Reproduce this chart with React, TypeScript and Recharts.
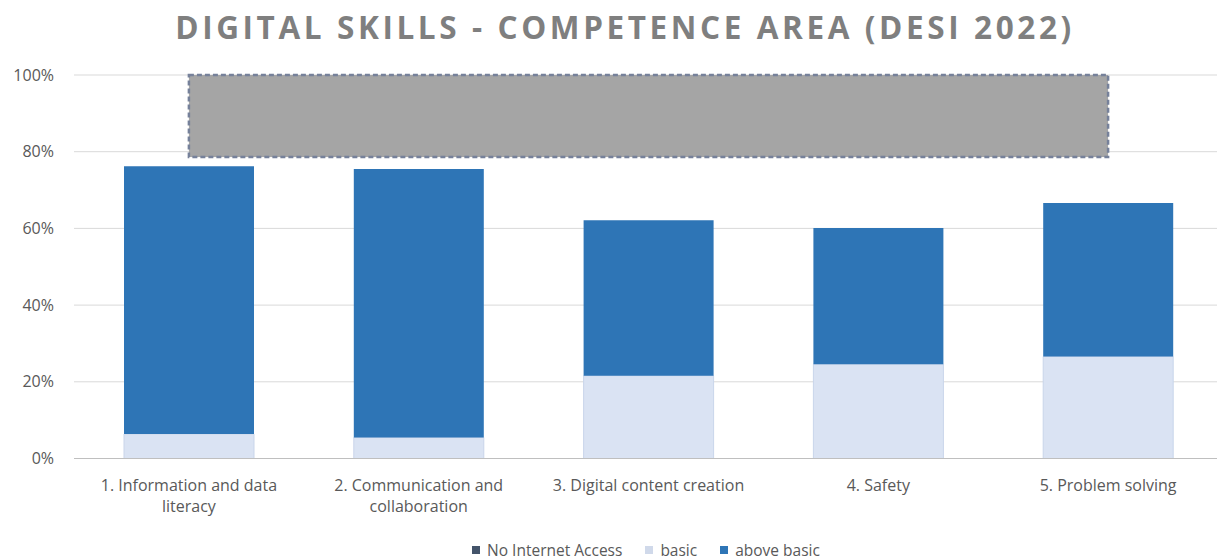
import React from 'react';
import { BarChart, Bar, XAxis, YAxis, CartesianGrid, Legend, ReferenceArea } from 'recharts';

const categories = [
  '1. Information and data literacy',
  '2. Communication and collaboration',
  '3. Digital content creation',
  '4. Safety',
  '5. Problem solving',
];
const tickLines = [
  ['1. Information and data', 'literacy'],
  ['2. Communication and', 'collaboration'],
  ['3. Digital content creation'],
  ['4. Safety'],
  ['5. Problem solving'],
];
const basicValues = [0.064, 0.055, 0.216, 0.246, 0.266];
const aboveBasicValues = [0.698, 0.7, 0.405, 0.355, 0.4];
const yTicks = [0, 0.2, 0.4, 0.6, 0.8, 1];

// grey box over the top of the plot, from centre of first to centre of last category
const boxY = [0.786, 1];

const legendItems = [
  { label: 'No Internet Access', color: '#44546a' },
  { label: 'basic', color: '#d0d9ea' },
  { label: 'above basic', color: '#2e75b6' },
];

const data = categories.map((name, i) => ({
  name,
  basic: basicValues[i],
  aboveBasic: aboveBasicValues[i],
}));

const FONT = '"Open Sans", sans-serif';
const TEXT = '#595959';

const XTick = (props: any) => {
  const { x, y, payload } = props;
  const lines = tickLines[categories.indexOf(payload.value)] || [payload.value];
  return (
    <text x={x} y={y} textAnchor="middle" fill={TEXT} fontSize={16} fontFamily={FONT}>
      {lines.map((l, i) => (
        <tspan key={i} x={x} dy={i === 0 ? 32 : 21}>
          {l}
        </tspan>
      ))}
    </text>
  );
};

// the area spans whole bands; pull it in half a band on each side
const BoxShape = (p: any) => {
  const inset = p.width / categories.length / 2;
  return (
    <rect
      x={p.x + inset}
      y={p.y}
      width={p.width - 2 * inset}
      height={p.height}
      fill="#a5a5a5"
      stroke="#76819a"
      strokeWidth={2.5}
      strokeDasharray="5 3"
    />
  );
};

const renderLegend = () => (
  <div
    style={{
      display: 'flex',
      justifyContent: 'center',
      alignItems: 'center',
      height: 18,
      lineHeight: '18px',
      paddingLeft: 92,
      fontFamily: FONT,
      fontSize: 15.5,
      color: TEXT,
    }}
  >
    {legendItems.map((it) => (
      <span key={it.label} style={{ display: 'flex', alignItems: 'center', marginRight: 23 }}>
        <span style={{ width: 8, height: 8, background: it.color, marginRight: 7, display: 'inline-block' }} />
        {it.label}
      </span>
    ))}
  </div>
);

export default function App() {
  return (
    <div style={{ position: 'absolute', left: 0, top: 0, width: 1217, height: 560, background: '#fff', overflow: 'hidden' }}>
      <div
        style={{
          position: 'absolute',
          left: 0,
          top: 5,
          width: 1217,
          paddingLeft: 33,
          boxSizing: 'border-box',
          textAlign: 'center',
          fontFamily: FONT,
          fontWeight: 700,
          fontSize: 31.5,
          letterSpacing: 3.6,
          color: '#7f7f7f',
        }}
      >
        DIGITAL SKILLS - COMPETENCE AREA (DESI 2022)
      </div>
      <BarChart
        width={1217}
        height={560}
        data={data}
        margin={{ top: 75, right: -6, left: 0, bottom: 1 }}
      >
        <CartesianGrid vertical={false} stroke="#d9d9d9" />
        <XAxis
          dataKey="name"
          height={82.5}
          tickLine={false}
          tickSize={0}
          tickMargin={0}
          axisLine={{ stroke: '#bfbfbf' }}
          tick={<XTick />}
          interval={0}
        />
        <YAxis
          width={74}
          domain={[0, 1]}
          ticks={yTicks}
          tickFormatter={(v) => `${Math.round(v * 100)}%`}
          axisLine={false}
          tickLine={false}
          tickSize={0}
          tickMargin={20}
          tick={{ fill: TEXT, fontSize: 16, fontFamily: FONT }}
        />
        <Legend verticalAlign="bottom" content={renderLegend} />
        <Bar dataKey="basic" stackId="a" fill="#dae3f3" stroke="#c9d5ea" barSize={130} isAnimationActive={false} />
        <Bar dataKey="aboveBasic" stackId="a" fill="#2e75b6" barSize={130} isAnimationActive={false} />
        <ReferenceArea
          x1={categories[0]}
          x2={categories[categories.length - 1]}
          y1={boxY[0]}
          y2={boxY[1]}
          shape={<BoxShape />}
          ifOverflow="visible"
        />
      </BarChart>
    </div>
  );
}
